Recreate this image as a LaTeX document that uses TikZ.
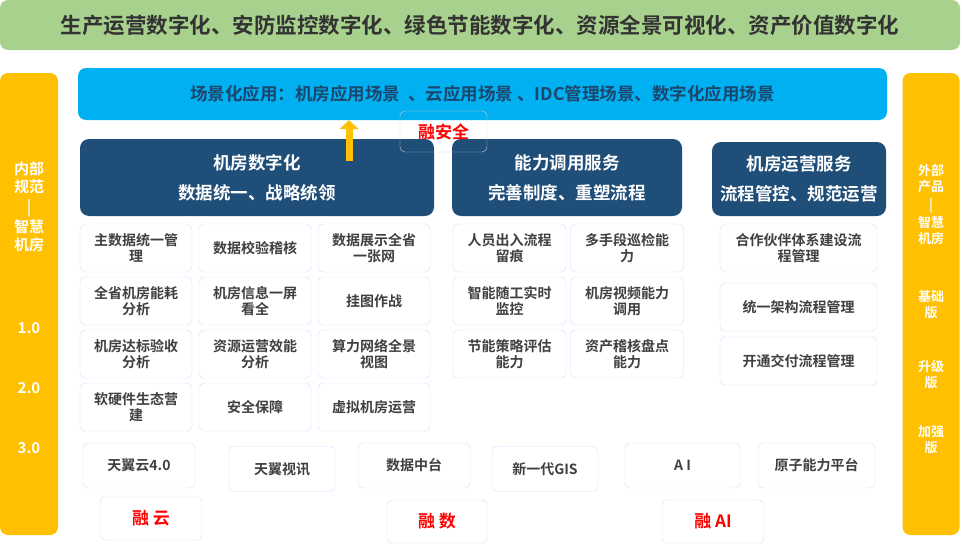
\documentclass[tikz,border=0pt]{standalone}
\usepackage{fontspec}
\usetikzlibrary{arrows.meta}
\setmainfont{Noto Sans CJK SC}[BoldFont={Noto Sans CJK SC Bold}]
\begin{document}
\begin{tikzpicture}[x=1pt,y=-1pt,font=\bfseries,
 cell/.style={draw=blue!15,rounded corners=5pt,fill=white,text=black!75,align=center,font=\bfseries\fontsize{14}{16}\selectfont,inner sep=1pt},
 hdr/.style={fill=hdrblue,rounded corners=9pt,text=white,align=center,font=\bfseries\fontsize{17.5}{30}\selectfont},
 side/.style={fill=sideyel,rounded corners=8pt},
 stext/.style={text=white,align=center,font=\bfseries\fontsize{15}{18}\selectfont},
 red/.style={cell,text=red,font=\bfseries\fontsize{17}{18}\selectfont}]
\definecolor{hdrblue}{HTML}{1F4E79}
\definecolor{sideyel}{HTML}{FFC000}
\definecolor{topgreen}{HTML}{A9D18E}
\definecolor{skyblue}{HTML}{00B0F0}
\useasboundingbox (0,0) rectangle (962,546);
\node[fill=topgreen,rounded corners=8pt,minimum width=960pt,minimum height=50pt,text=black!80,font=\bfseries\fontsize{21.5}{22}\selectfont] (top) at (480,25) {生产运营数字化、安防监控数字化、绿色节能数字化、资源全景可视化、资产价值数字化};
\node[side,minimum width=58pt,minimum height=462pt] (L) at (29,304) {};
\node[side,minimum width=57pt,minimum height=462pt] (R) at (931,304) {};
\node[stext] (l1) at (29,207) {内部\\规范\\[2pt]|\\[2pt]智慧\\机房};
\node[stext] (l2) at (29,328) {1.0};
\node[stext] (l3) at (29,388) {2.0};
\node[stext] (l4) at (29,448) {3.0};
\node[stext,font=\bfseries\fontsize{13}{16}\selectfont] (r1) at (931,205) {外部\\产品\\[2pt]|\\[2pt]智慧\\机房};
\node[stext,font=\bfseries\fontsize{13}{16}\selectfont] (r2) at (931,305) {基础\\版};
\node[stext,font=\bfseries\fontsize{13}{16}\selectfont] (r3) at (931,375) {升级\\版};
\node[stext,font=\bfseries\fontsize{13}{16}\selectfont] (r4) at (931,440) {加强\\版};
\node[fill=skyblue,rounded corners=8pt,minimum width=809pt,minimum height=52pt,text=hdrblue!90!black,font=\bfseries\fontsize{17.5}{18}\selectfont] (app) at (482.5,94) {场景化应用：机房应用场景\ \ 、云应用场景 、IDC管理场景、数字化应用场景};
\node[hdr,minimum width=354pt,minimum height=77pt] (h1) at (257,177.5) {机房数字化\\数据统一、战略统领};
\node[hdr,minimum width=230pt,minimum height=77pt] (h2) at (567,177.5) {能力调用服务\\完善制度、重塑流程};
\node[hdr,minimum width=174pt,minimum height=74pt] (h3) at (799,179) {机房运营服务\\流程管控、规范运营};
\node[draw=gray!40,rounded corners=5pt,minimum width=87pt,minimum height=41pt,text=red,font=\bfseries\fontsize{17}{18}\selectfont] (sec) at (443.5,131.5) {融安全};
\coordinate (arrB) at (349,161);
\draw[line width=7pt,draw=sideyel,-{Triangle[length=9pt,width=19pt]}] (arrB) -- (app.south -| arrB);
\foreach \n/\x/\y/\t in {a1/136/248/主数据统一管\\理, a2/255/248/数据校验稽核, a3/374/248/数据展示全省\\一张网,
 a4/136/301/全省机房能耗\\分析, a5/255/301/机房信息一屏\\看全, a6/374/301/挂图作战,
 a7/136/354/机房达标验收\\分析, a8/255/354/资源运营效能\\分析, a9/374/354/算力网络全景\\视图,
 a10/136/407/软硬件生态营\\建, a11/255/407/安全保障, a12/374/407/虚拟机房运营}
 \node[cell,minimum width=112pt,minimum height=48pt] (\n) at (\x,\y) {\t};
\foreach \n/\x/\y/\t in {b1/509.5/248/人员出入流程\\留痕, b2/627/248/多手段巡检能\\力,
 b3/509.5/301/智能随工实时\\监控, b4/627/301/机房视频能力\\调用,
 b5/509.5/354/节能策略评估\\能力, b6/627/354/资产稽核盘点\\能力}
 \node[cell,minimum width=113pt,minimum height=48pt] (\n) at (\x,\y) {\t};
\foreach \n/\y/\t in {c1/248/合作伙伴体系建设流\\程管理, c2/307/统一架构流程管理, c3/361/开通交付流程管理}
 \node[cell,minimum width=157pt,minimum height=48pt] (\n) at (798.5,\y) {\t};
\foreach \n/\x/\y/\w/\t in {d1/139/465.5/112/天翼云4.0, d2/282/469/106/天翼视讯, d3/414/465.5/112/数据中台,
 d4/545/469/106/新一代GIS, d5/682.5/465.5/115/A I, d6/816.5/465.5/117/原子能力平台}
 \node[cell,minimum width=\w pt,minimum height=45pt] (\n) at (\x,\y) {\t};
\node[red,minimum width=102pt,minimum height=43pt] (e1) at (151,518.5) {融 云};
\node[red,minimum width=100pt,minimum height=43pt] (e2) at (437,521.5) {融 数};
\node[red,minimum width=102pt,minimum height=43pt] (e3) at (713,521.5) {融 AI};
\end{tikzpicture}
\end{document}
